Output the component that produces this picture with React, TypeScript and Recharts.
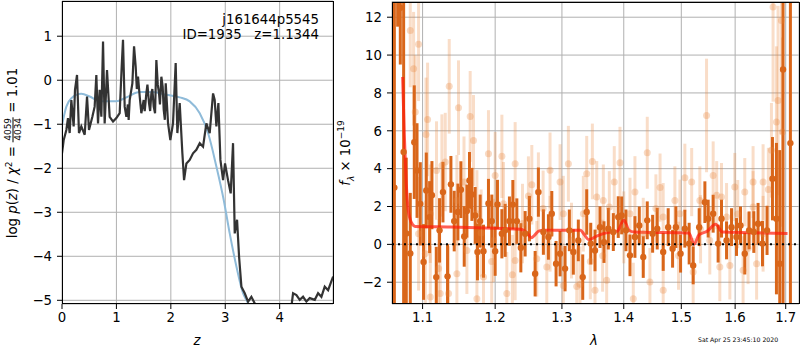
import { ComposedChart, Line, Scatter, ErrorBar, XAxis, YAxis, CartesianGrid, ReferenceLine } from 'recharts';

// left panel: log p(z)
const pzZ = [0, 0.031, 0.08, 0.11, 0.141, 0.172, 0.214, 0.239, 0.276, 0.312, 0.355, 0.417, 0.46, 0.496, 0.558, 0.6, 0.631, 0.662, 0.692, 0.723, 0.754, 0.784, 0.827, 0.876, 0.938, 0.999, 1.06, 1.097, 1.121, 1.152, 1.183, 1.21, 1.225, 1.244, 1.293, 1.324, 1.354, 1.375, 1.397, 1.428, 1.458, 1.501, 1.52, 1.55, 1.57, 1.599, 1.62, 1.642, 1.66, 1.685, 1.71, 1.734, 1.76, 1.783, 1.8, 1.826, 1.85, 1.869, 1.89, 1.906, 1.949, 1.991, 2.04, 2.089, 2.12, 2.163, 2.212, 2.243, 2.286, 2.347, 2.408, 2.469, 2.531, 2.592, 2.653, 2.714, 2.776, 2.806, 2.837, 2.874, 2.911, 2.96, 2.996, 3.051, 3.1, 3.143, 3.174, 3.217, 3.254, 3.297, 3.358, 3.419, 3.48, 3.542, 3.603, 3.8, 4.0, 4.2, 4.246, 4.308, 4.369, 4.43, 4.491, 4.553, 4.645, 4.706, 4.767, 4.828, 4.89, 4.982];
const pzVal = [-1.66, -1.36, -1.13, -0.86, -1.2, -0.45, -1.05, -0.22, 0.12, -1.2, -1.05, -1.24, -0.37, -1.13, -0.83, -0.6, 0.12, -0.98, -0.22, -0.83, 0.88, -0.98, 0.23, -0.83, -0.94, -0.86, -0.75, 0.31, 0.92, -0.6, -0.83, -0.55, -0.9, -0.45, -0.07, 0.77, 0.31, -0.2, 0.08, -0.37, -0.75, -0.45, -0.7, -0.3, -0.1, -0.52, -0.7, -0.3, -0.2, -0.6, -0.75, 0.46, -0.1, -0.3, -0.55, 0.08, -0.15, -0.67, -0.9, -0.07, -0.98, -1.36, -0.98, 0.39, -1.2, -0.52, -1.66, -2.27, -1.89, -1.81, -1.66, -1.58, -1.43, -1.51, -0.98, -1.2, -0.3, -0.45, -1.05, -0.52, -1.81, -2.27, -1.89, -2.27, -2.57, -1.43, -3.48, -3.17, -4.01, -4.69, -4.84, -5.03, -4.92, -5.07, -5.45, -5.8, -5.6, -5.3, -4.84, -4.88, -4.99, -4.92, -5.03, -4.95, -4.99, -4.84, -4.92, -4.69, -4.77, -4.46];

const priorZ = [0, 0.08, 0.172, 0.355, 0.509, 0.692, 0.938, 1.029, 1.183, 1.428, 1.673, 1.918, 2.163, 2.347, 2.531, 2.684, 2.837, 2.972, 3.082, 3.205, 3.327, 3.419, 3.511];
const priorVal = [-1.02, -0.6, -0.41, -0.31, -0.37, -0.48, -0.48, -0.47, -0.39, -0.27, -0.27, -0.33, -0.39, -0.48, -0.75, -1.2, -1.96, -2.72, -3.48, -4.23, -4.84, -5.07, -5.4];

const zTicks = [0, 1, 2, 3, 4];
const pzTicks = [-5, -4, -3, -2, -1, 0, 1];

// right panel: spectrum
const darkLam = [1.0634, 1.0676, 1.071, 1.0753, 1.0787, 1.0839, 1.0891, 1.0927, 1.097, 1.1013, 1.1049, 1.1093, 1.1124, 1.1182, 1.1226, 1.1272, 1.1334, 1.138, 1.1425, 1.1476, 1.1517, 1.1563, 1.16, 1.1636, 1.167, 1.1716, 1.1748, 1.1786, 1.1833, 1.1904, 1.1952, 1.2, 1.2033, 1.2097, 1.2145, 1.2207, 1.2257, 1.2316, 1.2375, 1.2439, 1.2503, 1.2589, 1.2638, 1.2714, 1.2791, 1.2843, 1.2909, 1.2971, 1.3049, 1.3116, 1.3179, 1.3258, 1.3328, 1.3392, 1.3457, 1.3526, 1.3607, 1.3672, 1.3743, 1.3826, 1.3908, 1.3965, 1.4037, 1.4105, 1.4189, 1.4263, 1.4331, 1.44, 1.4493, 1.4573, 1.4678, 1.4766, 1.4844, 1.4903, 1.4987, 1.5064, 1.5142, 1.5215, 1.5325, 1.543, 1.5491, 1.5584, 1.5677, 1.5741, 1.5836, 1.5931, 1.6026, 1.6103, 1.6186, 1.627, 1.6362, 1.6446, 1.6533, 1.6624, 1.6732, 1.6812, 1.6879, 1.6946, 1.7096];
const darkFlux = [3, 14.5, 12.5, 4.88, 0.58, -0.48, 5.4, 3.9, 2.14, -0.93, 2.85, 1.44, 2.6, -1.73, 0.74, 2.76, -1.69, 3.17, 1.23, 1.71, 2.89, 0.42, 1.76, 3.38, 2.64, 1.53, -0.4, 1.23, -0.36, 2.16, 1.23, -0.36, 2.11, 0.56, 0.74, 1.23, 2.1, 1.23, -0.18, 0.56, 1.36, -1.55, 2.76, 0.65, 0.39, 1.62, -1.02, -0.49, -1.28, 0.74, -0.4, 0.21, -1.73, 1.71, 0.04, -0.32, 0.91, 0.12, 0.83, 0.65, 1.44, 1.53, 0.74, -0.58, 0.39, 1.0, -0.67, 1.27, 0.56, 0.83, -0.4, 0.91, -0.23, 0.91, -0.49, 0.83, 0.04, -1.11, 0.91, 2.23, 1.36, 1.62, 0.04, 1.36, 0.21, 0.91, 0.39, 1.0, -0.49, 0.74, 0.65, 1.09, 0.04, 0.74, 3.47, 1.36, -1.02, 9.24, 5.35];
const darkErr = [20, 3, 3, 9, 4, 3.2, 3, 2.5, 2.2, 2, 2, 1.9, 1.8, 1.6, 1.7, 1.6, 1.7, 1.5, 1.6, 1.5, 1.5, 1.6, 1.4, 1.5, 1.4, 1.5, 1.5, 1.4, 1.4, 1.3, 1.4, 1.3, 1.3, 1.3, 1.4, 1.3, 1.3, 1.2, 1.3, 1.2, 1.2, 1.2, 1.3, 1.2, 1.2, 1.2, 1.2, 1.2, 1.2, 1.1, 1.2, 1.1, 1.2, 1.2, 1.1, 1.1, 1.1, 1.1, 1.1, 1.0, 1.1, 1.0, 1.1, 1.1, 1.1, 1.0, 1.1, 1.0, 1.0, 1.1, 1.0, 1.0, 1.0, 1.1, 1.0, 1.0, 1.1, 1.0, 1.0, 1.1, 1.0, 1.0, 1.0, 1.0, 1.0, 1.0, 1.0, 1.0, 1.1, 1.0, 1.1, 1.1, 1.2, 1.3, 2.2, 4, 6, 14, 20];

const lightLam = [1.0839, 1.0947, 1.0882, 1.0904, 1.1066, 1.1045, 1.1357, 1.1484, 1.1646, 1.1692, 1.1904, 1.2, 1.2097, 1.2291, 1.1258, 1.1303, 1.0947, 1.1036, 1.1213, 1.1102, 1.1235, 1.1348, 1.174, 1.2169, 1.2488, 1.2539, 1.2638, 1.2816, 1.2971, 1.3101, 1.3233, 1.3392, 1.3483, 1.3554, 1.3661, 1.3842, 1.3937, 1.4189, 1.44, 1.4161, 1.4623, 1.4885, 1.5064, 1.5188, 1.5461, 1.5584, 1.5741, 1.5993, 1.6186, 1.6348, 1.6545, 1.6712, 1.6744, 1.6845, 1.6812, 1.6913, 1.6934, 1.4446, 1.4678, 1.5215, 1.5709, 1.5899, 1.6153, 1.6417, 1.3022, 1.3285, 1.3526, 1.3716, 1.2614, 1.2766, 1.2291, 1.1976, 1.16, 1.1462, 1.1833, 1.4678, 1.4975, 1.5337, 1.6348, 1.5836, 1.3022, 1.3338, 1.376, 1.4105, 1.212, 1.174, 1.1462, 1.1102, 1.2816, 1.4331, 1.5521, 1.6545, 1.1185, 1.156, 1.195, 1.24, 1.271, 1.315, 1.365, 1.4, 1.455, 1.495, 1.535, 1.565, 1.605, 1.625, 1.665, 1.225, 1.18, 1.345];
const lightFlux = [11.3, 10.57, 9.28, 6.99, 6.6, 5.81, 8.35, 7.22, 6.76, 5.49, 4.79, 3.64, 4.65, 4.26, 4.17, 4.35, 0.56, -0.49, -1.28, -2.78, -2.6, -2.6, -2.87, -2.6, 2.55, 3.15, 2.76, 3.91, 3.29, 4.26, -2.22, 3.73, 4.38, 2.5, 2.32, 3.29, 4.31, 2.76, 4.84, -2.87, 3.0, 2.32, 3.52, 3.29, 6.81, 3.64, 2.5, 3.03, 2.76, 3.29, 3.29, 4.97, 12.54, 7.6, 6.46, 11.83, 5.93, -1.99, -2.43, -1.46, -1.2, -1.11, -1.37, -1.02, -2.17, -2.11, -2.43, -1.9, -0.76, -1.2, -0.85, 0.21, -0.32, -1.55, -1.73, 1.44, 1.62, 2.32, 1.97, 1.44, 1.62, 1.62, 1.97, 1.62, 2.15, 1.62, 2.32, 1.62, 0.56, 0.56, 0.21, 0.56, 3.9, 3.3, -0.9, 1.1, 1.9, 0.2, -0.6, 0.9, 1.9, -0.6, 0.8, 2.6, 1.6, -0.2, 2.9, -1.6, 0.6, -0.9];
const lightErr = [3, 3, 3, 3, 3, 3, 2.5, 2.5, 2.4, 2.4, 2.3, 2.3, 2.2, 2.2, 2.7, 2.6, 3, 2.8, 2.6, 2.7, 2.6, 2.5, 2.3, 2.2, 2.1, 2.1, 2.1, 2, 2, 2, 2, 2, 2, 1.9, 1.9, 1.9, 1.9, 1.9, 1.9, 1.9, 1.8, 1.8, 1.8, 1.8, 3, 1.8, 1.8, 1.8, 1.8, 1.9, 2, 2.5, 5, 5, 4, 6, 5, 1.8, 1.8, 1.8, 1.8, 1.8, 1.8, 1.9, 2, 2, 2, 1.9, 2, 2, 2.1, 2.2, 2.3, 2.4, 2.3, 1.8, 1.8, 1.8, 1.9, 1.8, 2, 2, 1.9, 1.9, 2.2, 2.3, 2.4, 2.6, 2, 1.9, 1.8, 2, 2.6, 2.4, 2.2, 2.1, 2, 2, 1.9, 1.9, 1.8, 1.8, 1.8, 1.8, 1.8, 1.9, 2.2, 2.1, 2.3, 2];

const modelLam = [1.074, 1.0761, 1.0787, 1.0813, 1.0851, 1.0904, 1.1372, 1.2, 1.2369, 1.247, 1.2533, 1.2579, 1.2644, 1.272, 1.3292, 1.3345, 1.3426, 1.3562, 1.3726, 1.3892, 1.4002, 1.4087, 1.4171, 1.5138, 1.523, 1.532, 1.5476, 1.5631, 1.5757, 1.7037];
const modelFlux = [8.84, 5.86, 3.2, 1.8, 1.18, 0.95, 0.92, 0.85, 0.8, 0.6, 0.35, 0.48, 0.7, 0.75, 0.75, 0.55, 0.25, 0.45, 0.62, 0.7, 1.27, 0.75, 0.65, 0.6, 0.0, 0.5, 0.7, 1.06, 0.65, 0.58];

const lamTicks = [1.1, 1.2, 1.3, 1.4, 1.5, 1.6, 1.7];
const fluxTicks = [-2, 0, 2, 4, 6, 8, 10, 12];

const pzData = pzZ.map((x, i) => ({ x, y: pzVal[i] }));
const priorData = priorZ.map((x, i) => ({ x, y: priorVal[i] }));
const darkData = darkLam.map((x, i) => ({ x, y: darkFlux[i], e: darkErr[i] }));
const lightData = lightLam.map((x, i) => ({ x, y: lightFlux[i], e: lightErr[i] }));
const modelData = modelLam.map((x, i) => ({ x, y: modelFlux[i] }));

const FONT = 'DejaVu Sans, sans-serif';
const tickStyle = { fill: '#000', fontSize: 13.3, fontFamily: FONT };
const minus = (v: number) => (v < 0 ? '\u2212' + Math.abs(v) : String(v));

const DARK = '#d9661a';
const LIGHT = '#e8843a';

const LAM_DOMAIN = [1.0604, 1.7273];
const FLUX_DOMAIN = [-3.15, 12.83];
const RIGHT_MARGIN = { top: 1.5, right: 1, bottom: 16, left: 0 };

function App() {
  return (
    <div style={{ position: 'absolute', left: 0, top: 0, width: 800, height: 350, background: '#fff', fontFamily: FONT, color: '#000' }}>
      <div style={{ position: 'absolute', left: 0, top: 0 }}>
        <ComposedChart width={340} height={350} margin={{ top: 1, right: 7, bottom: 16, left: 0 }}>
          <CartesianGrid stroke="#b0b0b0" strokeWidth={1} />
          <XAxis dataKey="x" type="number" domain={[0, 4.98]} ticks={zTicks} allowDataOverflow
            axisLine={false} tickLine={{ stroke: '#000' }} tickSize={5} tickMargin={4} height={30} tick={tickStyle} />
          <YAxis dataKey="y" type="number" domain={[-5.084, 1.8]} ticks={pzTicks} allowDataOverflow
            axisLine={false} tickLine={{ stroke: '#000' }} tickSize={5} tickMargin={5} width={62} tick={tickStyle} tickFormatter={minus} />
          <Line data={priorData} dataKey="y" type="monotone" stroke="#8fbbd9" strokeWidth={2} dot={false} isAnimationActive={false} />
          <Line data={pzData} dataKey="y" type="linear" stroke="#333333" strokeWidth={2.2} dot={false} isAnimationActive={false} />
        </ComposedChart>
      </div>
      <div style={{ position: 'absolute', left: 62, top: 1, width: 272, height: 303, border: '1px solid #000', boxSizing: 'border-box' }} />
      <div style={{ position: 'absolute', right: 800 - 319, top: 12, fontSize: 13.3, textAlign: 'right', lineHeight: '15px', whiteSpace: 'pre' }}>
        {'j161644p5545\nID=1935   z=1.1344'}
      </div>
      <div style={{ position: 'absolute', left: 13, top: 153, transform: 'translate(-50%, -50%) rotate(-90deg)', fontSize: 13.3, whiteSpace: 'nowrap', lineHeight: '16px' }}>
        log <i>p</i>(<i>z</i>) / <i>χ</i><sup style={{ fontSize: 9, verticalAlign: 'super', lineHeight: 0 }}>2</sup> ={' '}
        <span style={{ display: 'inline-block', verticalAlign: 'middle', textAlign: 'center', fontSize: 9, lineHeight: '9px' }}>
          <span style={{ display: 'block', borderBottom: '1px solid #000', padding: '0 1px' }}>4059</span>
          <span style={{ display: 'block' }}>4034</span>
        </span>{' '}
        = 1.01
      </div>
      <div style={{ position: 'absolute', left: 197, top: 340, transform: 'translate(-50%, -50%)', fontSize: 13.3, fontStyle: 'italic' }}>z</div>

      {/* right panel: axes + grid */}
      <div style={{ position: 'absolute', left: 340, top: 0 }}>
        <ComposedChart width={460} height={350} margin={RIGHT_MARGIN}>
          <CartesianGrid stroke="#b0b0b0" strokeWidth={1} />
          <XAxis dataKey="x" type="number" scale="log" domain={LAM_DOMAIN} ticks={lamTicks} allowDataOverflow
            axisLine={false} tickLine={{ stroke: '#000' }} tickSize={5} tickMargin={4} height={30} tick={tickStyle} />
          <YAxis dataKey="y" type="number" domain={FLUX_DOMAIN} ticks={fluxTicks} allowDataOverflow
            axisLine={false} tickLine={{ stroke: '#000' }} tickSize={5} tickMargin={5} width={52} tick={tickStyle} tickFormatter={minus} />
          <Line data={modelData} dataKey="y" stroke="none" dot={false} isAnimationActive={false} />
        </ComposedChart>
      </div>
      {/* right panel: data, clipped to the plot box */}
      <div style={{ position: 'absolute', left: 392, top: 1.5, width: 407.5, height: 302.5, overflow: 'hidden' }}>
        <div style={{ position: 'absolute', left: -52, top: -1.5 }}>
          <ComposedChart width={460} height={350} margin={{ top: 1.5, right: 1, bottom: 46, left: 52 }}>
            <XAxis hide dataKey="x" type="number" scale="log" domain={LAM_DOMAIN} allowDataOverflow />
            <YAxis hide dataKey="y" type="number" domain={FLUX_DOMAIN} allowDataOverflow />
            <Scatter data={lightData} dataKey="y" isAnimationActive={false}
              shape={(p: any) => <circle cx={p.cx} cy={p.cy} r={3.5} fill={LIGHT} fillOpacity={0.3} />}>
              <ErrorBar dataKey="e" direction="y" width={0} stroke={LIGHT} strokeOpacity={0.28} strokeWidth={3} />
            </Scatter>
            <Scatter data={darkData} dataKey="y" isAnimationActive={false}
              shape={(p: any) => <circle cx={p.cx} cy={p.cy} r={3.2} fill={DARK} />}>
              <ErrorBar dataKey="e" direction="y" width={0} stroke={DARK} strokeWidth={3} />
            </Scatter>
            <Line data={modelData} dataKey="y" type="monotone" stroke="#ff1a0a" strokeOpacity={0.7} strokeWidth={3} dot={false} isAnimationActive={false} />
            <ReferenceLine y={0} stroke="#000" strokeWidth={2} strokeDasharray="2 4" />
          </ComposedChart>
        </div>
      </div>
      <div style={{ position: 'absolute', left: 392, top: 1.5, width: 408, height: 302.5, border: '1px solid #000', boxSizing: 'border-box' }} />
      <div style={{ position: 'absolute', left: 346, top: 153, transform: 'translate(-50%, -50%) rotate(-90deg)', fontSize: 13.3, whiteSpace: 'nowrap' }}>
        <i>f</i><sub style={{ fontSize: 9 }}><i>λ</i></sub> × 10<sup style={{ fontSize: 9 }}>−19</sup>
      </div>
      <div style={{ position: 'absolute', left: 594, top: 340, transform: 'translate(-50%, -50%)', fontSize: 13.3, fontStyle: 'italic' }}>λ</div>
      <div style={{ position: 'absolute', left: 698, top: 336, fontSize: 6.2, whiteSpace: 'nowrap' }}>Sat Apr 25 23:45:10 2020</div>
    </div>
  );
}

export default App;
